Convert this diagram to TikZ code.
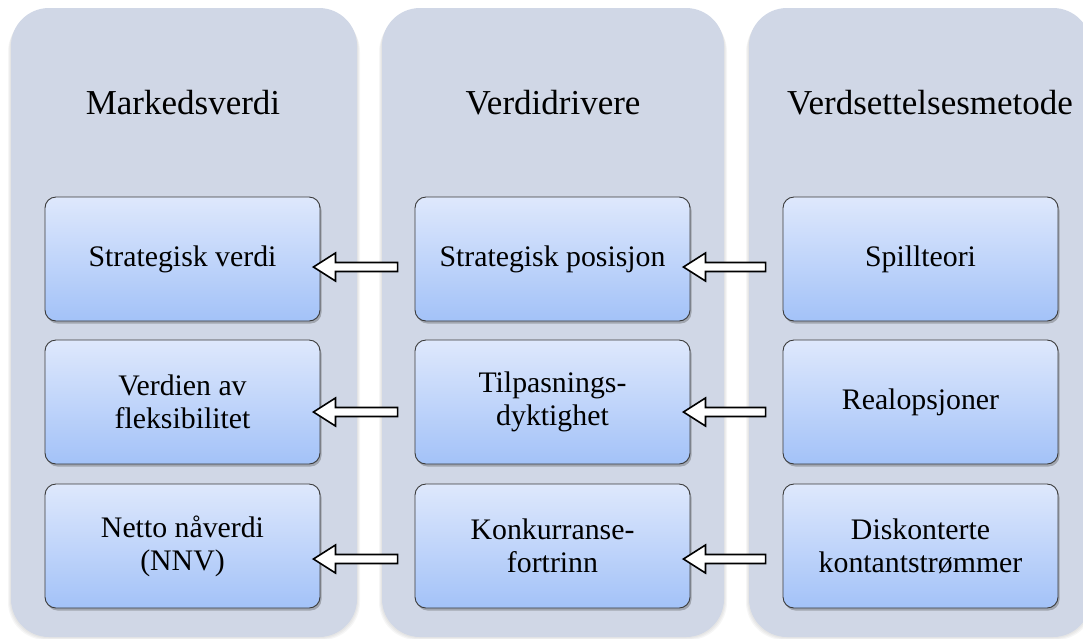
\documentclass[tikz,border=0pt]{standalone}
\usepackage{fontspec}
\setmainfont{Liberation Serif}
\usetikzlibrary{calc,shadows}
\definecolor{colbg}{HTML}{D0D7E6}
\definecolor{boxtop}{HTML}{DEE8FC}
\definecolor{boxbot}{HTML}{A3C2F8}
\definecolor{boxline}{HTML}{3A3A3A}
\tikzset{
  colbox/.style={fill=colbg, draw=none, rounded corners=38pt},
  colshadow/.style={fill=black, opacity=0.035, draw=none, rounded corners=38pt},
  itembox/.style={draw=boxline, line width=0.9pt, rounded corners=11pt,
    top color=boxtop, bottom color=boxbot,
    minimum width=275pt, minimum height=124pt, inner sep=2pt,
    align=center, font=\fontsize{29.8}{33}\selectfont,
    drop shadow={shadow xshift=1.5pt, shadow yshift=-2.5pt, opacity=0.35, fill=black!70}},
  coltitle/.style={font=\fontsize{35}{40}\selectfont, inner sep=0pt},
  blockarrow/.style={fill=white, draw=black, line width=1.6pt, line join=miter}
}
\newcommand{\blkarrow}[2]{%
  \path let \p1=#1, \p2=#2 in
    [blockarrow] (\x1,\y1+4.5pt) -- (\x2+22pt,\y1+4.5pt) -- (\x2+22pt,\y1+14pt)
    -- (\x2,\y1) -- (\x2+22pt,\y1-14pt) -- (\x2+22pt,\y1-4.5pt) -- (\x1,\y1-4.5pt) -- cycle;}
\begin{document}
\begin{tikzpicture}[x=1pt,y=-1pt]
\useasboundingbox (0,0) rectangle (1083,638);
\begin{scope}
\clip (0,0) rectangle (1083,638);
% column shadows
\foreach \d in {1,2,3}{
  \fill[colshadow] (11-\d,8+2*\d) rectangle (357+\d,637+\d);
  \fill[colshadow] (382-\d,8+2*\d) rectangle (724+\d,637+\d);
  \fill[colshadow] (749-\d,8+2*\d) rectangle (1091+\d,637+\d);
}
% columns
\fill[colbox] (11,8) rectangle (357,637);
\fill[colbox] (382,8) rectangle (724,637);
\fill[colbox] (749,8) rectangle (1091,637);
\end{scope}
\node[coltitle] (t1) at (183,103) {Markedsverdi};
\node[coltitle] (t2) at (553,103) {Verdidrivere};
\node[coltitle] (t3) at (930,103) {Verdsettelsesmetode};
% boxes
\node[itembox] (a1) at (182.5,259) {Strategisk verdi};
\node[itembox] (a2) at (182.5,402) {Verdien av\\fleksibilitet};
\node[itembox] (a3) at (182.5,546) {Netto nåverdi\\(NNV)};
\node[itembox] (b1) at (552.5,259) {Strategisk posisjon};
\node[itembox] (b2) at (552.5,402) {Tilpasnings-\\dyktighet};
\node[itembox] (b3) at (552.5,546) {Konkurranse-\\fortrinn};
\node[itembox] (c1) at (920.5,259) {Spillteori};
\node[itembox] (c2) at (920.5,402) {Realopsjoner};
\node[itembox] (c3) at (920.5,546) {Diskonterte\\kontantstrømmer};
% arrows
\blkarrow{($(b1.west)+(-17,8)$)}{($(a1.east)+(-7,8)$)}
\blkarrow{($(b2.west)+(-17,10)$)}{($(a2.east)+(-7,10)$)}
\blkarrow{($(b3.west)+(-17,13)$)}{($(a3.east)+(-7,13)$)}
\blkarrow{($(c1.west)+(-17,8)$)}{($(b1.east)+(-7,8)$)}
\blkarrow{($(c2.west)+(-17,10)$)}{($(b2.east)+(-7,10)$)}
\blkarrow{($(c3.west)+(-17,13)$)}{($(b3.east)+(-7,13)$)}
\end{tikzpicture}
\end{document}
